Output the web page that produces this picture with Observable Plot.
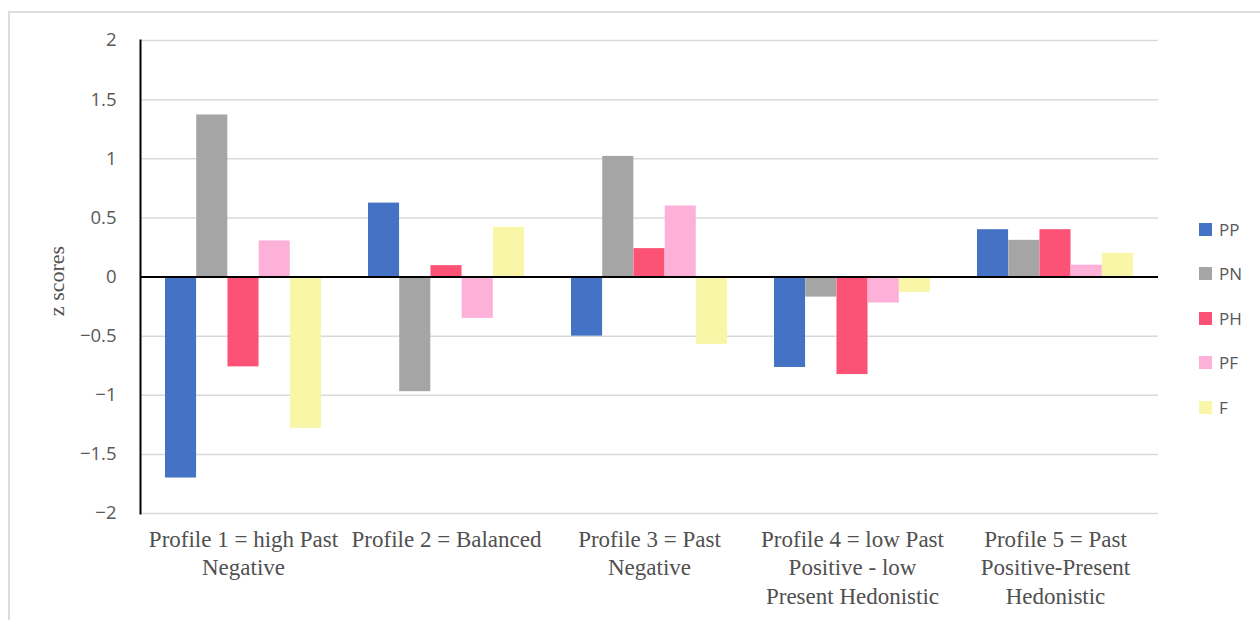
<!DOCTYPE html>
<html>
<head>
<meta charset="utf-8">
<script src="https://cdn.jsdelivr.net/npm/d3@7"></script>
<script src="https://cdn.jsdelivr.net/npm/@observablehq/plot@0.6"></script>
<style>
  html, body { margin: 0; padding: 0; background: #fff; }
  #wrap { position: relative; width: 1260px; height: 620px; overflow: hidden; }
  #border { position: absolute; left: 8px; top: 11px; width: 1300px; height: 700px;
            border-left: 2px solid #dcdcdc; border-top: 2px solid #dcdcdc; }
  #ylabel { position: absolute; left: 57px; top: 281px; transform: translate(-50%, -50%) rotate(-90deg);
            font-family: "Liberation Serif", "Times New Roman", serif; font-size: 22px; color: #505050; white-space: nowrap; }
  #legend { position: absolute; left: 1199px; top: 207px; font-family: "Open Sans", sans-serif;
            font-size: 17px; color: #595959; }
  .item { height: 44.5px; display: flex; align-items: center; }
  .sw { width: 13px; height: 13px; margin-right: 7px; }
</style>
</head>
<body>
<div id="wrap">
  <div id="border"></div>
  <div id="chart"></div>
  <div id="ylabel">z scores</div>
  <div id="legend"></div>
</div>
<script>
const profiles = [
  "Profile 1 = high Past\nNegative",
  "Profile 2 = Balanced",
  "Profile 3 = Past\nNegative",
  "Profile 4 = low Past\nPositive - low\nPresent Hedonistic",
  "Profile 5 = Past\nPositive-Present\nHedonistic"
];
const series = ["PP", "PN", "PH", "PF", "F"];
const PP = [-1.70, 0.625, -0.50, -0.765, 0.40];
const PN = [1.37, -0.97, 1.02, -0.17, 0.31];
const PH = [-0.76, 0.096, 0.24, -0.825, 0.40];
const PF = [0.305, -0.35, 0.60, -0.22, 0.10];
const F  = [-1.28, 0.42, -0.57, -0.13, 0.20];
const colors = ["#4472c4", "#a5a5a5", "#fc5275", "#fdb1d8", "#faf6a8"];
const yTicks = [-2, -1.5, -1, -0.5, 0, 0.5, 1, 1.5, 2];

const values = [PP, PN, PH, PF, F];
const data = [];
series.forEach((s, i) => profiles.forEach((p, j) => data.push({series: s, profile: p, value: values[i][j]})));

const W = 1260, H = 620, mL = 140, mR = 102, mT = 40, mB = 107;
const padIn = 0.233, padOut = padIn / 2;
const step = (W - mL - mR) / (profiles.length - padIn + 2 * padOut);
const bw = step * (1 - padIn) / series.length;

const fmt = d => (d < 0 ? "\u2212" : "") + Math.abs(d);

const barMarks = series.map((s, i) =>
  Plot.barY(data.filter(d => d.series === s), {
    x: "profile", y: "value", fill: colors[i],
    insetLeft: i * bw, insetRight: (series.length - 1 - i) * bw
  })
);

const chart = Plot.plot({
  width: W, height: H,
  marginLeft: mL, marginRight: mR, marginTop: mT, marginBottom: mB,
  x: {domain: profiles, paddingInner: padIn, paddingOuter: padOut, label: null},
  y: {domain: [-2, 2], label: null},
  style: {background: "transparent", overflow: "visible"},
  marks: [
    Plot.gridY(yTicks, {stroke: "#d9d9d9", strokeOpacity: 1, strokeWidth: 1.5}),
    ...barMarks,
    Plot.ruleY([0], {stroke: "#000", strokeWidth: 2}),
    Plot.frame({anchor: "left", stroke: "#000", strokeWidth: 2}),
    Plot.axisY(yTicks, {tickSize: 0, tickPadding: 24, tickFormat: fmt, label: null,
      fontSize: 18.5, fontFamily: "Open Sans, sans-serif", fill: "#595959"}),
    Plot.axisX({tickSize: 0, tickPadding: 14, label: null, lineHeight: 1.22,
      fontSize: 23, fontFamily: "Liberation Serif, Times New Roman, serif", fill: "#505050"})
  ]
});
document.getElementById("chart").appendChild(chart);

const leg = document.getElementById("legend");
series.forEach((s, i) => {
  const it = document.createElement("div");
  it.className = "item";
  it.innerHTML = `<div class="sw" style="background:${colors[i]}"></div><span>${s}</span>`;
  leg.appendChild(it);
});
</script>
</body>
</html>
